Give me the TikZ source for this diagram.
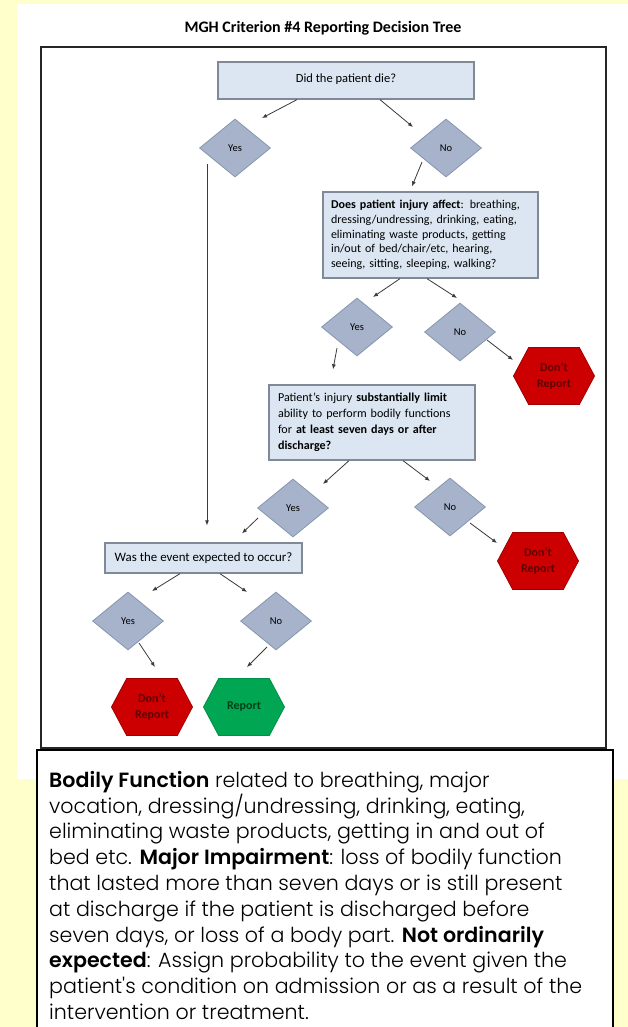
\documentclass[tikz,border=0pt]{standalone}
\usepackage{fontspec}
\setmainfont{Carlito}
\newfontfamily\notefont{Poppins}[UprightFont=* Light,BoldFont=* SemiBold]
\usetikzlibrary{shapes.geometric,shapes.symbols,arrows.meta}

\definecolor{paper}{HTML}{FFFFCC}
\definecolor{qfill}{HTML}{DCE6F2}
\definecolor{qline}{HTML}{7F8A96}
\definecolor{dfill}{HTML}{A6B3CA}
\definecolor{dline}{HTML}{8496B0}
\definecolor{stopfill}{HTML}{CC0000}
\definecolor{stopline}{HTML}{A00000}
\definecolor{stoptext}{HTML}{600000}
\definecolor{gofill}{HTML}{00A651}
\definecolor{goline}{HTML}{00904A}
\definecolor{gotext}{HTML}{003F18}
\definecolor{arrowgray}{HTML}{3A3A3A}

\begin{document}
\begin{tikzpicture}[x=1pt,y=-1pt,
  question/.style={draw=qline,fill=qfill,line width=1.3pt,inner sep=0pt},
  answer/.style={diamond,draw=dline,fill=dfill,line width=0.8pt,inner sep=0pt,
    minimum width=71pt,minimum height=58pt,font=\fontsize{10.5}{12}\selectfont},
  outcome/.style={signal,signal to=east and west,signal pointer angle=124,
    line width=0.8pt,inner sep=0pt,minimum width=81pt,minimum height=57pt,
    align=center,font=\bfseries\fontsize{12}{16}\selectfont},
  dontreport/.style={outcome,draw=stopline,fill=stopfill,text=stoptext},
  report/.style={outcome,draw=goline,fill=gofill,text=gotext},
  arr/.style={-{Latex[length=5pt,width=4pt]},draw=arrowgray,line width=0.8pt}]
\useasboundingbox (0,0) rectangle (628,1027);
\fill[paper] (0,0) rectangle (628,1027);
\fill[white] (17,4) rectangle (628,779);
\node[font=\bfseries\fontsize{16}{18}\selectfont] (title) at (323,28) {MGH Criterion \#4 Reporting Decision Tree};
\draw[line width=1.4pt,draw=black!85] (41,47) rectangle (606,748);

% questions
\node[question,minimum width=256pt,minimum height=37pt,font=\fontsize{12.5}{15}\selectfont,text depth=5pt] (die) at (346,80.5) {Did the patient die?};
\node[question,minimum width=215pt,minimum height=86pt,text width=199pt,align=left,font=\fontsize{12}{14.8}\selectfont] (affect) at (430.5,235)
  {\textbf{Does patient injury affect}: breathing,\\ dressing/undressing, drinking, eating,\\ eliminating waste products, getting\\ in/out of bed/chair/etc, hearing,\\ seeing, sitting, sleeping, walking?};
\node[question,minimum width=206pt,minimum height=75pt,text width=188pt,align=left,font=\fontsize{12.1}{16}\selectfont] (limit) at (372,422.5)
  {Patient's injury \textbf{substantially limit}\\ ability to perform bodily functions\\ for \textbf{at least seven days or after}\\ \textbf{discharge?}};
\node[question,minimum width=197pt,minimum height=30pt,font=\fontsize{12.9}{15}\selectfont] (expected) at (203.5,558) {Was the event expected to occur?};

% answers
\node[answer] (yes1) at (235,148) {Yes};
\node[answer] (no1) at (446,148) {No};
\node[answer] (yes2) at (357,327) {Yes};
\node[answer] (no2) at (460,332) {No};
\node[answer] (yes3) at (293,508) {Yes};
\node[answer] (no3) at (450,507) {No};
\node[answer] (yes4) at (128,621) {Yes};
\node[answer] (no4) at (276,621) {No};

% outcomes
\node[dontreport] (stop1) at (554,376) {Don't\\Report};
\node[dontreport] (stop2) at (538,561) {Don't\\Report};
\node[dontreport] (stop3) at (152,707) {Don't\\Report};
\node[report] (go) at (244,707) {Report};

% connectors
\draw[arr] ([shift={(-49,0)}]die.south) -- ([shift={(27,-30)}]yes1.center);
\draw[arr] ([shift={(34,0)}]die.south) -- ([shift={(-33,-21)}]no1.center);
\draw[arr] ([shift={(-24,14)}]no1.center) -- ([shift={(-18.5,-5)}]affect.north);
\draw[arr] ([shift={(-28,16)}]yes1.center) -- ([shift={(3.5,-17)}]expected.north);
\draw[arr] ([shift={(-30.5,0)}]affect.south) -- ([shift={(16,-30)}]yes2.center);
\draw[arr] ([shift={(-3.5,0)}]affect.south) -- ([shift={(-3,-34)}]no2.center);
\draw[arr] ([shift={(27,8)}]no2.center) -- ([shift={(-41,-16)}]stop1.center);
\draw[arr] ([shift={(-20,21)}]yes2.center) -- ([shift={(-39,-15)}]limit.north);
\draw[arr] ([shift={(-23,0)}]limit.south) -- ([shift={(30,-24)}]yes3.center);
\draw[arr] ([shift={(31,0)}]limit.south) -- ([shift={(-20,-26)}]no3.center);
\draw[arr] ([shift={(20,16)}]no3.center) -- ([shift={(-41,-18)}]stop2.center);
\draw[arr] ([shift={(-35,10)}]yes3.center) -- ([shift={(38.5,-9)}]expected.north);
\draw[arr] ([shift={(-23.5,0)}]expected.south) -- ([shift={(24,-30)}]yes4.center);
\draw[arr] ([shift={(16.5,0)}]expected.south) -- ([shift={(-29,-29)}]no4.center);
\draw[arr] ([shift={(11,22)}]yes4.center) -- ([shift={(3,-40)}]stop3.center);
\draw[arr] ([shift={(-9,26)}]no4.center) -- ([shift={(3,-40)}]go.center);

% definitions
\draw[line width=2pt,fill=white] (37,750) rectangle (613,1040);
\node[anchor=north west,inner sep=0pt,align=left,font=\notefont\fontsize{20.6}{25.8}\selectfont] (note) at (49,771)
  {\textbf{Bodily Function} related to breathing, major\\
   vocation, dressing/undressing, drinking, eating,\\
   eliminating waste products, getting in and out of\\
   bed etc. \textbf{Major Impairment}: loss of bodily function\\
   that lasted more than seven days or is still present\\
   at discharge if the patient is discharged before\\
   seven days, or loss of a body part. \textbf{Not ordinarily}\\
   \textbf{expected}: Assign probability to the event given the\\
   patient's condition on admission or as a result of the\\
   intervention or treatment.};
\end{tikzpicture}
\end{document}
